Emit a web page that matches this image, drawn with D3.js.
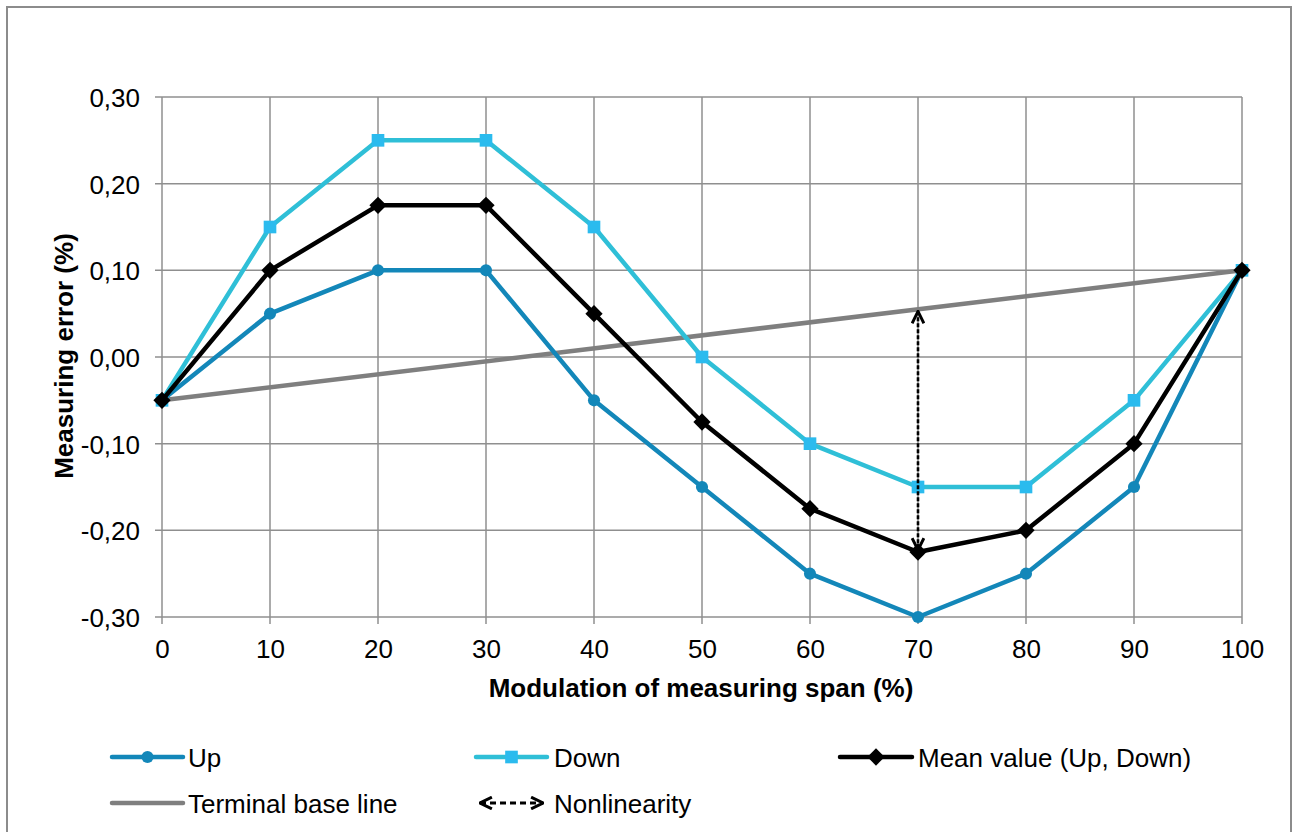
<!DOCTYPE html>
<html><head><meta charset="utf-8">
<script src="https://cdn.jsdelivr.net/npm/d3@7"></script>
<style>body{margin:0;background:#fff}svg{display:block;font-family:"Liberation Sans",Arial,sans-serif}</style>
</head><body><svg id="c" width="1300" height="832"></svg>
<script>
const xCats = [0,10,20,30,40,50,60,70,80,90,100];
const upVals = [-0.05,0.05,0.10,0.10,-0.05,-0.15,-0.25,-0.30,-0.25,-0.15,0.10];
const downVals = [-0.05,0.15,0.25,0.25,0.15,0.00,-0.10,-0.15,-0.15,-0.05,0.10];
const meanVals = [-0.05,0.10,0.175,0.175,0.05,-0.075,-0.175,-0.225,-0.20,-0.10,0.10];
const baseX = [0,100];
const baseVals = [-0.05,0.10];
const nonlinX = 70;
const nonlinVals = [0.055,-0.225];
const yTicks = [-0.30,-0.20,-0.10,0.00,0.10,0.20,0.30];
const legendLabels = ["Up","Down","Mean value (Up, Down)","Terminal base line","Nonlinearity"];

const FS = 26;
const svg = d3.select("#c");
svg.append("rect").attr("x",7).attr("y",7).attr("width",1284).attr("height",840).attr("fill","#fff").attr("stroke","#8c8c8c").attr("stroke-width",2);

const x = d3.scaleLinear().domain([0,100]).range([162,1242]);
const y = d3.scaleLinear().domain([-0.30,0.30]).range([617,97]);
const fmt = v => d3.format(".2f")(v).replace(".",",").replace("−","-");
const grid = "#8f8f8f";

// grid
svg.append("g").selectAll("line").data(yTicks).join("line")
  .attr("x1",155).attr("x2",1242).attr("y1",d=>y(d)).attr("y2",d=>y(d))
  .attr("stroke",grid).attr("stroke-width",1.5);
svg.append("g").selectAll("line").data(xCats).join("line")
  .attr("x1",d=>x(d)).attr("x2",d=>x(d)).attr("y1",97).attr("y2",624)
  .attr("stroke",grid).attr("stroke-width",1.5);

// axes labels via d3 axes
const ya = svg.append("g").attr("transform","translate(162,0)")
  .call(d3.axisLeft(y).tickValues(yTicks).tickFormat(fmt).tickSize(0).tickPadding(22));
ya.select(".domain").remove();
ya.selectAll("text").attr("font-size",FS).attr("fill","#000").attr("font-family","Liberation Sans, Arial, sans-serif").attr("dy","0.36em");
const xa = svg.append("g").attr("transform","translate(0,617)")
  .call(d3.axisBottom(x).tickValues(xCats).tickFormat(d3.format("d")).tickSize(0).tickPadding(23));
xa.select(".domain").remove();
xa.selectAll("text").attr("font-size",FS).attr("fill","#000").attr("font-family","Liberation Sans, Arial, sans-serif");

svg.append("text").attr("x",701).attr("y",697).attr("text-anchor","middle")
  .attr("font-size",FS).attr("font-weight","bold").text("Modulation of measuring span (%)");
svg.append("text").attr("transform","translate(73,356) rotate(-90)").attr("text-anchor","middle")
  .attr("font-size",FS).attr("font-weight","bold").text("Measuring error (%)");

const line = d3.line().x(d=>x(d[0])).y(d=>y(d[1]));
const cUp = "#1387b9", cDownL = "#2fbfd7", cDownM = "#2bbbee", cMean = "#000", cBase = "#7f7f7f";

// baseline
svg.append("path").attr("d",line(baseX.map((d,i)=>[d,baseVals[i]]))).attr("fill","none").attr("stroke",cBase).attr("stroke-width",4.5);

// arrow marker
const defs = svg.append("defs");
defs.append("marker").attr("id","arr").attr("viewBox","0 0 10 10").attr("refX",9).attr("refY",5)
  .attr("markerWidth",14).attr("markerHeight",14).attr("markerUnits","userSpaceOnUse").attr("orient","auto-start-reverse")
  .append("path").attr("d","M0.5,0.8 L9,5 L0.5,9.2").attr("fill","none").attr("stroke","#000").attr("stroke-width",2.1);

function series(vals,color,shape,mcolor,msize){
  svg.append("path").attr("d",line(xCats.map((d,i)=>[d,vals[i]]))).attr("fill","none")
    .attr("stroke",color).attr("stroke-width",4.5).attr("stroke-linejoin","round");
  svg.append("g").selectAll("path").data(xCats.map((d,i)=>[d,vals[i]])).join("path")
    .attr("transform",d=>`translate(${x(d[0])},${y(d[1])})`)
    .attr("d",d3.symbol().type(shape).size(msize)).attr("fill",mcolor);
}
series(upVals,cUp,d3.symbolCircle,cUp,115);
series(downVals,cDownL,d3.symbolSquare,cDownM,160);
series(meanVals,cMean,d3.symbolDiamond2,cMean,190);

// nonlinearity arrow
svg.append("line").attr("x1",x(nonlinX)).attr("x2",x(nonlinX)).attr("y1",y(nonlinVals[0])+2).attr("y2",y(nonlinVals[1])-2)
  .attr("stroke","#000").attr("stroke-width",2.6).attr("stroke-dasharray","4,2")
  .attr("marker-start","url(#arr)").attr("marker-end","url(#arr)");

// legend
const lg = svg.append("g").attr("font-size",FS);
function legItem(x0,x1,yy,color,shape,mcolor,msize,label,tx){
  lg.append("line").attr("x1",x0).attr("x2",x1).attr("y1",yy).attr("y2",yy).attr("stroke",color).attr("stroke-width",4.5).attr("stroke-linecap","round");
  if(shape) lg.append("path").attr("transform",`translate(${(x0+x1)/2},${yy})`).attr("d",d3.symbol().type(shape).size(msize)).attr("fill",mcolor);
  lg.append("text").attr("x",tx).attr("y",yy+9.5).text(label);
}
legItem(112,183,757,cUp,d3.symbolCircle,cUp,115,legendLabels[0],188);
legItem(476,547,757,cDownL,d3.symbolSquare,cDownM,160,legendLabels[1],554);
legItem(840,912,757,cMean,d3.symbolDiamond2,cMean,190,legendLabels[2],918);
legItem(112,183,803,cBase,null,null,0,legendLabels[3],188);
lg.append("line").attr("x1",480).attr("x2",543).attr("y1",803).attr("y2",803).attr("stroke","#000").attr("stroke-width",2.8)
  .attr("stroke-dasharray","6,4").attr("marker-start","url(#arr)").attr("marker-end","url(#arr)");
lg.append("text").attr("x",554).attr("y",812.5).text(legendLabels[4]);
</script></body></html>
